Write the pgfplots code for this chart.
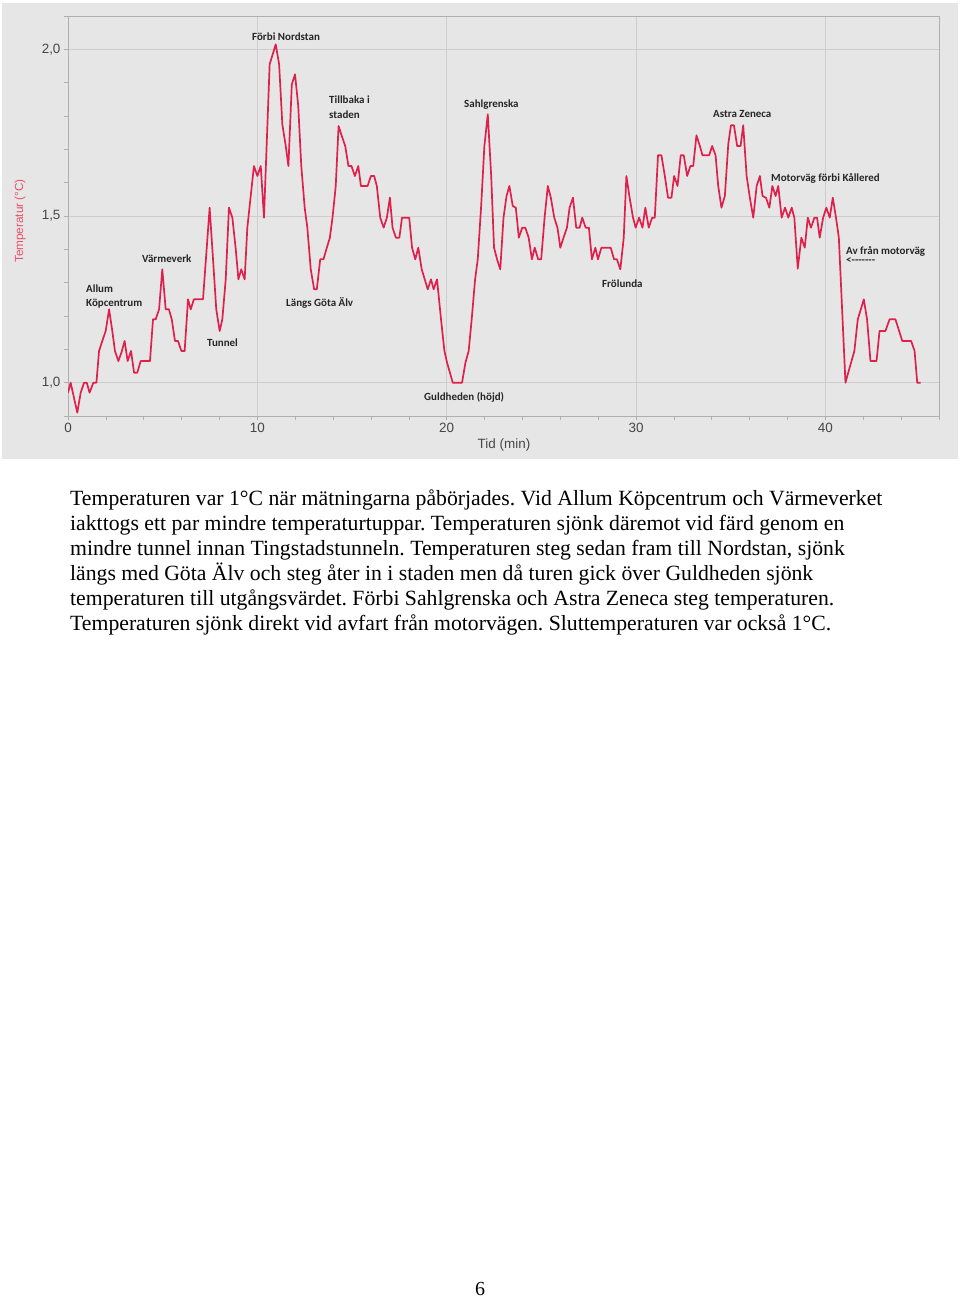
\documentclass[border=0pt]{standalone}
\usepackage{fontspec}
\usepackage{pgfplots}
\pgfplotsset{compat=1.18}
\setmainfont{Liberation Serif}
\newfontfamily\arial{Liberation Sans}
\newfontfamily\calibri{Carlito}

\definecolor{bggray}{RGB}{230,230,230}
\definecolor{gridgray}{RGB}{205,205,205}
\definecolor{axisgray}{RGB}{175,175,175}
\definecolor{ticktext}{RGB}{70,70,70}
\definecolor{tempred}{RGB}{222,32,75}
\definecolor{labelred}{RGB}{232,80,105}

\begin{document}
\frenchspacing
\begin{tikzpicture}
\path[use as bounding box] (0,0) rectangle (960bp,-1297bp);
\fill[white] (0,0) rectangle (960bp,-1297bp);
\fill[bggray] (2bp,-3bp) rectangle (958bp,-459bp);

\begin{axis}[
    at={(68bp,-416bp)}, anchor=south west,
    scale only axis,
    width=871bp, height=400bp,
    xmin=0, xmax=46,
    ymin=0.9, ymax=2.1,
    axis line style={axisgray, line width=0.6bp},
    xtick={0,10,20,30,40},
    minor xtick={2,4,6,8,12,14,16,18,22,24,26,28,32,34,36,38,42,44,46},
    ytick={1,1.5,2},
    minor ytick={0.9,1.1,1.2,1.3,1.4,1.6,1.7,1.8,1.9,2.1},
    tick align=outside,
    major tick length=4bp, minor tick length=4bp,
    tick style={axisgray, line width=0.6bp},
    xtick pos=bottom, ytick pos=left,
    grid=major,
    major grid style={gridgray, line width=0.6bp},
    /pgf/number format/assume math mode=true,
    /pgf/number format/.cd, use comma, fixed, fixed zerofill, precision=1,
    /pgfplots/.cd,
    xticklabel style={font=\arial\fontsize{13.5}{15}\selectfont, text=ticktext, /pgf/number format/precision=0, /pgf/number format/fixed zerofill=false},
    yticklabel style={font=\arial\fontsize{13.5}{15}\selectfont, text=ticktext},
]
\addplot[tempred, line width=1.7bp, line join=round] coordinates {
(0,0.97) (0.14,1.0) (0.49,0.91) (0.67,0.97) (0.85,1.0) (0.99,1.0) (1.14,0.97)
(1.34,1.0) (1.5,1.0) (1.64,1.095) (1.81,1.125) (1.99,1.155) (2.17,1.22)
(2.34,1.155) (2.48,1.095) (2.66,1.065) (2.82,1.09) (2.99,1.125) (3.15,1.065)
(3.33,1.095) (3.49,1.03) (3.66,1.03) (3.84,1.065) (4.33,1.065) (4.49,1.19)
(4.63,1.19) (4.81,1.22) (4.98,1.34) (5.16,1.22) (5.33,1.22) (5.48,1.19)
(5.65,1.125) (5.81,1.125) (5.99,1.095) (6.16,1.095) (6.34,1.25) (6.48,1.22)
(6.65,1.25) (7.13,1.25) (7.48,1.525) (7.66,1.37) (7.83,1.22) (8.01,1.155)
(8.15,1.19) (8.33,1.31) (8.5,1.525) (8.68,1.495) (8.86,1.4) (9.0,1.31)
(9.15,1.34) (9.33,1.31) (9.47,1.465) (9.65,1.56) (9.82,1.65) (10.0,1.62)
(10.18,1.65) (10.35,1.495) (10.49,1.71) (10.65,1.955) (10.97,2.015) (11.15,1.955)
(11.32,1.775) (11.5,1.71) (11.64,1.65) (11.82,1.895) (11.99,1.925) (12.16,1.83)
(12.32,1.65) (12.5,1.525) (12.64,1.465) (12.82,1.34) (13.0,1.28) (13.14,1.28)
(13.32,1.37) (13.49,1.37) (13.67,1.405) (13.83,1.435) (13.97,1.495) (14.14,1.59)
(14.29,1.77) (14.46,1.74) (14.64,1.71) (14.81,1.65) (14.97,1.65) (15.15,1.62)
(15.33,1.65) (15.47,1.59) (15.82,1.59) (16.0,1.62) (16.17,1.62) (16.31,1.59)
(16.49,1.495) (16.67,1.465) (16.84,1.495) (17.0,1.555) (17.14,1.465) (17.32,1.435)
(17.5,1.435) (17.64,1.495) (18.02,1.495) (18.17,1.405) (18.34,1.37) (18.5,1.405)
(18.68,1.34) (19.0,1.28) (19.17,1.31) (19.31,1.28) (19.49,1.31) (19.7,1.19)
(19.88,1.095) (20.02,1.06) (20.32,1.0) (20.81,1.0) (20.99,1.06) (21.16,1.095)
(21.32,1.19) (21.5,1.31) (21.64,1.37) (21.82,1.53) (21.99,1.71) (22.17,1.805)
(22.35,1.62) (22.5,1.405) (22.66,1.37) (22.83,1.34) (23.0,1.495) (23.16,1.56)
(23.31,1.59) (23.49,1.53) (23.65,1.525) (23.81,1.435) (23.99,1.465) (24.15,1.465)
(24.33,1.435) (24.5,1.37) (24.65,1.405) (24.83,1.37) (24.99,1.37) (25.17,1.495)
(25.34,1.59) (25.5,1.555) (25.68,1.495) (25.85,1.465) (26.0,1.405) (26.17,1.435)
(26.35,1.465) (26.49,1.525) (26.67,1.555) (26.84,1.465) (27.02,1.465) (27.16,1.495)
(27.34,1.465) (27.51,1.465) (27.67,1.37) (27.85,1.405) (27.99,1.37) (28.17,1.405)
(28.66,1.405) (28.84,1.37) (28.99,1.37) (29.17,1.34) (29.35,1.435) (29.49,1.62)
(29.66,1.555) (29.84,1.495) (29.98,1.465) (30.16,1.495) (30.34,1.465) (30.49,1.525)
(30.67,1.465) (30.85,1.495) (30.99,1.495) (31.16,1.682) (31.34,1.682) (31.52,1.62)
(31.69,1.555) (31.87,1.555) (32.01,1.62) (32.19,1.59) (32.36,1.682) (32.52,1.682)
(32.7,1.62) (32.87,1.65) (33.02,1.65) (33.19,1.742) (33.37,1.71) (33.51,1.682)
(33.86,1.682) (34.02,1.71) (34.2,1.682) (34.34,1.59) (34.51,1.525) (34.69,1.56)
(34.87,1.715) (35.01,1.772) (35.17,1.772) (35.34,1.71) (35.52,1.71) (35.66,1.772)
(35.84,1.62) (36.01,1.555) (36.19,1.495) (36.37,1.59) (36.54,1.62) (36.68,1.56)
(36.86,1.555) (37.04,1.525) (37.2,1.59) (37.37,1.56) (37.51,1.59) (37.69,1.495)
(37.87,1.525) (38.04,1.495) (38.22,1.525) (38.36,1.495) (38.54,1.342) (38.73,1.435)
(38.91,1.405) (39.07,1.495) (39.24,1.465) (39.42,1.495) (39.56,1.495) (39.7,1.435)
(39.88,1.495) (40.05,1.525) (40.23,1.495) (40.39,1.555) (40.56,1.495) (40.71,1.435)
(41.06,1.0) (41.23,1.035) (41.53,1.095) (41.71,1.19) (42.03,1.25) (42.2,1.19)
(42.38,1.065) (42.7,1.065) (42.86,1.155) (43.17,1.155) (43.39,1.19) (43.7,1.19)
(44.06,1.125) (44.53,1.125) (44.71,1.095) (44.85,1.0) (45.03,1.0)
};
\end{axis}

% axis titles
\node[font=\arial\fontsize{13.5}{15}\selectfont, text=ticktext] at (504bp,-445bp) {Tid (min)};
\node[font=\arial\fontsize{11.8}{13}\selectfont, text=labelred, rotate=90] at (20bp,-221bp) {Temperatur (°C)};

% annotations
\begin{scope}[every node/.style={font=\calibri\bfseries\fontsize{11}{13}\selectfont, anchor=west, inner sep=0pt, text=black!85}]
\node at (86bp,-289bp) {Allum};
\node at (86bp,-304bp) {Köpcentrum};
\node at (142bp,-259bp) {Värmeverk};
\node at (207bp,-343bp) {Tunnel};
\node at (252bp,-37bp) {Förbi Nordstan};
\node at (286bp,-303bp) {Längs Göta Älv};
\node at (329bp,-100bp) {Tillbaka i};
\node at (329bp,-115bp) {staden};
\node at (464bp,-105bp) {Sahlgrenska};
\node at (424bp,-397bp) {Guldheden (höjd)};
\node at (602bp,-284bp) {Frölunda};
\node at (713bp,-114bp) {Astra Zeneca};
\node at (771bp,-178bp) {Motorväg förbi Kållered};
\node at (846bp,-251bp) {Av från motorväg};
\node at (846bp,-261bp) {<-------};
\end{scope}

% paragraph
\begin{scope}[every node/.style={font=\fontsize{21.8}{25}\selectfont, anchor=base west, inner sep=0pt}]
\node at (70bp,-505bp) {Temperaturen var 1°C när mätningarna påbörjades. Vid Allum Köpcentrum och Värmeverket};
\node at (70bp,-530bp) {iakttogs ett par mindre temperaturtuppar. Temperaturen sjönk däremot vid färd genom en};
\node at (70bp,-555bp) {mindre tunnel innan Tingstadstunneln. Temperaturen steg sedan fram till Nordstan, sjönk};
\node at (70bp,-580bp) {längs med Göta Älv och steg åter in i staden men då turen gick över Guldheden sjönk};
\node at (70bp,-605bp) {temperaturen till utgångsvärdet. Förbi Sahlgrenska och Astra Zeneca steg temperaturen.};
\node at (70bp,-630bp) {Temperaturen sjönk direkt vid avfart från motorvägen. Sluttemperaturen var också 1°C.};
\end{scope}
\node[font=\fontsize{20}{24}\selectfont, anchor=base, inner sep=0pt] at (480bp,-1295bp) {6};
\end{tikzpicture}
\end{document}
